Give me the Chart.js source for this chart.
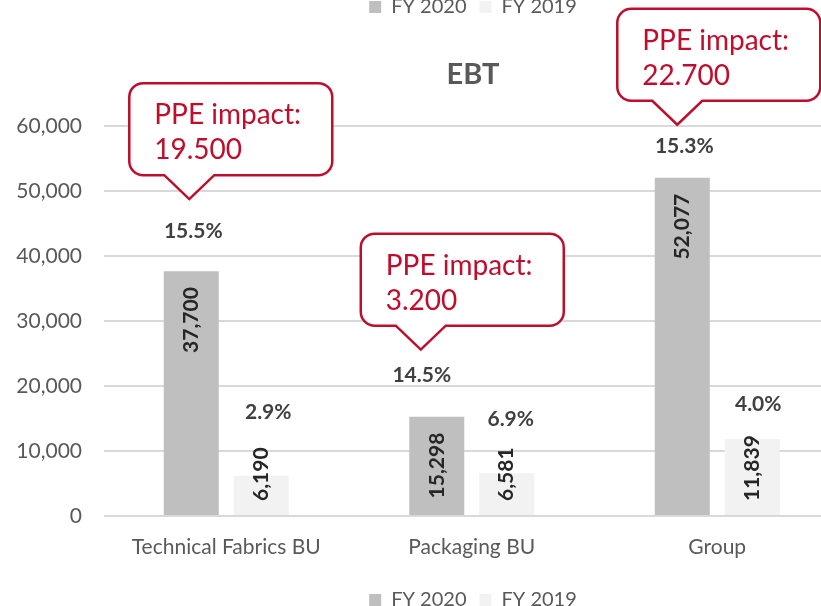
<!DOCTYPE html>
<html>
<head>
<meta charset="utf-8">
<script src="https://cdn.jsdelivr.net/npm/chart.js@4.4.0/dist/chart.umd.min.js"></script>
<style>
  html, body { margin: 0; padding: 0; background: #fff; overflow: hidden; }
  #wrap { width: 946px; height: 620px; }
</style>
</head>
<body>
<div id="wrap"><canvas id="chart" width="946" height="620"></canvas></div>
<script>
const categories = ["Technical Fabrics BU", "Packaging BU", "Group"];
const fy2020 = [37700, 15298, 52077];
const fy2019 = [6190, 6581, 11839];
const margin2020 = ["15.5%", "14.5%", "15.3%"];
const margin2019 = ["2.9%", "6.9%", "4.0%"];
const ppeImpact = ["19.500", "3.200", "22.700"];
const seriesNames = ["FY 2020", "FY 2019"];

// where the hand-placed labels sit, relative to the top of their bar
const pctOffset2020 = [{ dx: 2, dy: -40 }, { dx: -15, dy: -41 }, { dx: 2, dy: -32 }];
const pctOffset2019 = [{ dx: 7, dy: -64 }, { dx: 4, dy: -54 }, { dx: 6, dy: -35 }];
const calloutOffset = [{ dx: -2, dy: -72 }, { dx: -16, dy: -67 }, { dx: -5, dy: -53 }];

const RED = "#c00d2b";
const GREY_TEXT = "#595959";
const FONT = "Lato";

function fmt(n) {
  return String(n).replace(/\B(?=(\d{3})+(?!\d))/g, ",");
}

function drawCallout(ctx, tipX, tipY, lines) {
  const w = 203, h = 92, r = 14;
  const left = tipX - 60, top = tipY - 116;
  const right = left + w, bottom = top + h;
  ctx.save();
  ctx.beginPath();
  ctx.moveTo(left + r, top);
  ctx.lineTo(right - r, top);
  ctx.arcTo(right, top, right, top + r, r);
  ctx.lineTo(right, bottom - r);
  ctx.arcTo(right, bottom, right - r, bottom, r);
  ctx.lineTo(tipX + 25, bottom);
  ctx.lineTo(tipX, tipY);
  ctx.lineTo(tipX - 25, bottom);
  ctx.lineTo(left + r, bottom);
  ctx.arcTo(left, bottom, left, bottom - r, r);
  ctx.lineTo(left, top + r);
  ctx.arcTo(left, top, left + r, top, r);
  ctx.closePath();
  ctx.fillStyle = "#fff";
  ctx.fill();
  ctx.strokeStyle = RED;
  ctx.lineWidth = 2.5;
  ctx.stroke();
  ctx.fillStyle = RED;
  ctx.font = "28px " + FONT;
  ctx.textAlign = "left";
  ctx.textBaseline = "middle";
  ctx.fillText(lines[0], left + 25, top + 32);
  ctx.fillText(lines[1], left + 25, top + 67);
  ctx.restore();
}

const labelPlugin = {
  id: "labelPlugin",
  afterDatasetsDraw(chart) {
    const ctx = chart.ctx;
    const m0 = chart.getDatasetMeta(0).data;
    const m1 = chart.getDatasetMeta(1).data;

    // values written up the bars
    [[m0, fy2020], [m1, fy2019]].forEach(([bars, vals]) => {
      bars.forEach((bar, i) => {
        const txt = fmt(vals[i]);
        ctx.save();
        ctx.font = "bold 21px " + FONT;
        const len = ctx.measureText(txt).width;
        let cy = bar.y + 16 + len / 2;
        if (bar.y + 16 + len > bar.base - 14) cy = bar.base - 14 - len / 2;
        ctx.translate(bar.x, cy);
        ctx.rotate(-Math.PI / 2);
        ctx.fillStyle = "#262626";
        ctx.textAlign = "center";
        ctx.textBaseline = "middle";
        ctx.fillText(txt, 0, 0);
        ctx.restore();
      });
    });

    // margin percentages
    ctx.save();
    ctx.font = "bold 21px " + FONT;
    ctx.fillStyle = "#404040";
    ctx.textAlign = "center";
    ctx.textBaseline = "middle";
    m0.forEach((bar, i) => {
      ctx.fillText(margin2020[i], bar.x + pctOffset2020[i].dx, bar.y + pctOffset2020[i].dy);
    });
    m1.forEach((bar, i) => {
      ctx.fillText(margin2019[i], bar.x + pctOffset2019[i].dx, bar.y + pctOffset2019[i].dy);
    });
    ctx.restore();

    // PPE callouts
    m0.forEach((bar, i) => {
      drawCallout(ctx, bar.x + calloutOffset[i].dx, bar.y + calloutOffset[i].dy, ["PPE impact:", ppeImpact[i]]);
    });
  },
  afterDraw(chart) {
    // second copy of the legend, cut off at the top of the picture
    const legend = chart.legend;
    const ctx = chart.ctx;
    const dy = 7 - (legend.legendHitBoxes[0].top + legend.legendHitBoxes[0].height / 2);
    ctx.save();
    ctx.font = "20px " + FONT;
    ctx.textBaseline = "middle";
    ctx.textAlign = "left";
    legend.legendHitBoxes.forEach((hb, i) => {
      const item = legend.legendItems[i];
      const cy = hb.top + hb.height / 2 + dy;
      ctx.fillStyle = item.fillStyle;
      ctx.fillRect(hb.left, cy - 6, 12, 12);
      ctx.fillStyle = GREY_TEXT;
      ctx.fillText(item.text, hb.left + 22, cy);
    });
    ctx.restore();
  }
};

new Chart(document.getElementById("chart"), {
  type: "bar",
  data: {
    labels: categories,
    datasets: [
      { label: seriesNames[0], data: fy2020, backgroundColor: "#bfbfbf", categoryPercentage: 0.57, barPercentage: 0.786 },
      { label: seriesNames[1], data: fy2019, backgroundColor: "#f2f2f2", categoryPercentage: 0.57, barPercentage: 0.786 }
    ]
  },
  options: {
    responsive: false,
    animation: false,
    layout: { padding: 0 },
    plugins: {
      title: {
        display: true,
        text: "EBT",
        color: GREY_TEXT,
        font: { family: FONT, size: 29, weight: "bold" },
        padding: { top: 57.5, bottom: 34 }
      },
      legend: {
        position: "bottom",
        labels: {
          boxWidth: 12,
          boxHeight: 12,
          padding: 13,
          color: GREY_TEXT,
          font: { family: FONT, size: 20 }
        }
      },
      tooltip: { enabled: false }
    },
    scales: {
      x: {
        grid: { display: false },
        border: { display: false },
        ticks: { color: GREY_TEXT, font: { family: FONT, size: 21 }, padding: 11 },
        afterFit: (s) => { s.height = 61; }
      },
      y: {
        min: 0,
        max: 60000,
        ticks: {
          stepSize: 10000,
          color: GREY_TEXT,
          font: { family: FONT, size: 21 },
          padding: 21.5,
          callback: (v) => fmt(v)
        },
        grid: { color: "#d9d9d9", lineWidth: 2, drawTicks: false },
        border: { display: false },
        afterFit: (s) => { s.width = 103.5; }
      },
      y2: {
        position: "right",
        display: true,
        ticks: { display: false },
        grid: { display: false, drawTicks: false },
        border: { display: false },
        afterFit: (s) => { s.width = 106; }
      }
    }
  },
  plugins: [labelPlugin]
});
</script>
</body>
</html>
